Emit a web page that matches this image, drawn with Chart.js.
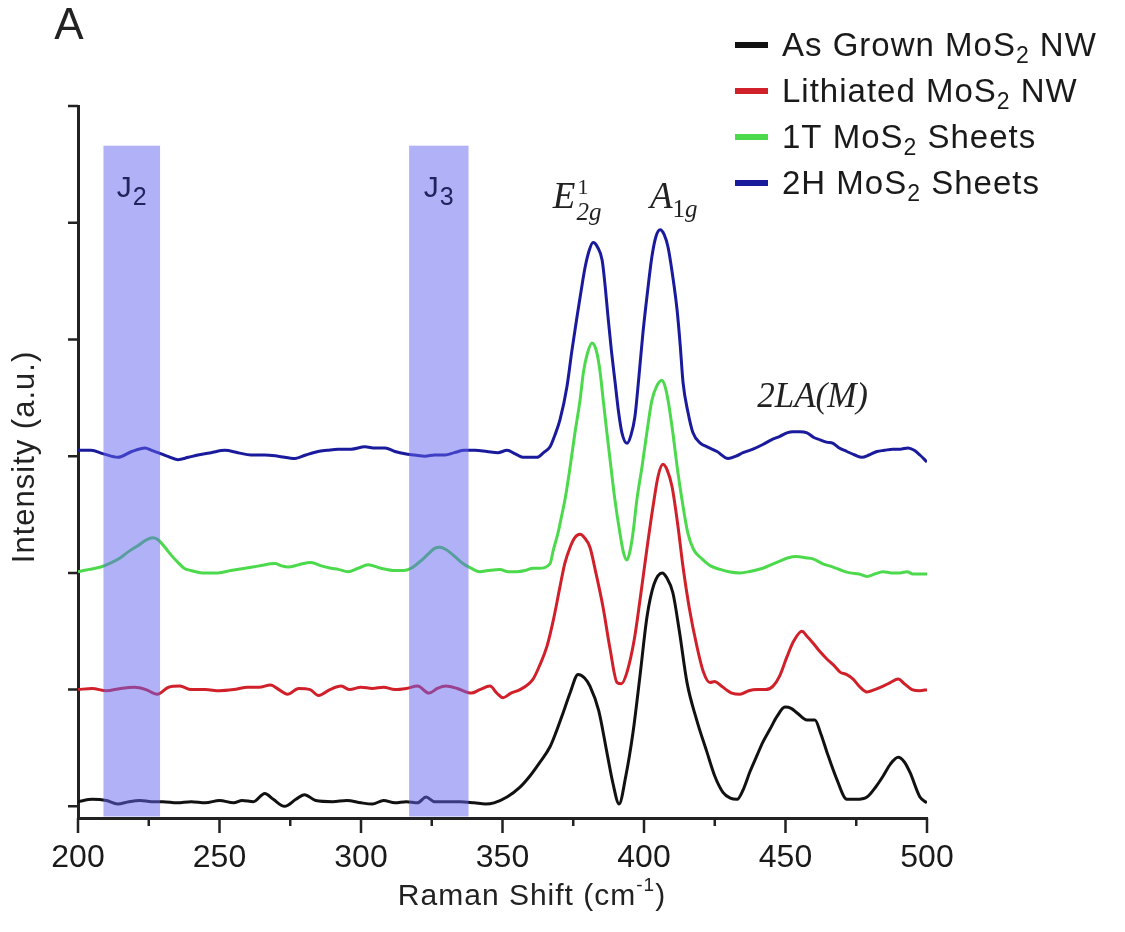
<!DOCTYPE html>
<html>
<head>
<meta charset="utf-8">
<script src="https://cdn.jsdelivr.net/npm/chart.js@4.4.0/dist/chart.umd.min.js"></script>
<style>
  html, body { margin: 0; background: #fff; }
</style>
</head>
<body>
<canvas id="raman" width="1125" height="932"></canvas>
<script>
// Raman spectra, values (offset stacked, arbitrary units)
const seriesLabels = ['As Grown MoS₂ NW', 'Lithiated MoS₂ NW', '1T MoS₂ Sheets', '2H MoS₂ Sheets'];
const seriesColors = ['#111111', '#d0202a', '#4cd94c', '#1a1a9c'];

const grownX = [200,205,210,214,218,222,226,230,235,240,245,250,255,258,262,266,269,273,277,280,284,290,295,300,304,308,312,316,320,323,326,330,335,340,344,347,351.6,356,359.7,363,366.8,369,371.4,374,376.7,379,380.9,384,386.9,389,391.2,393.5,396.1,398.5,401.1,403.5,406.4,408,410.2,412.5,415.2,418.5,422.3,425,427.9,430.5,432.9,435,437.5,440,442,444.5,447,449.8,452,454.1,457.6,460.4,462.5,464.7,468,471.7,475,478.8,482,484.5,487,489.8,492,494,497.5,500];
const grownY = [0.04,0.06,0.05,0.02,0.04,0.05,0.04,0.04,0.03,0.04,0.03,0.05,0.03,0.05,0.04,0.11,0.06,0.00,0.06,0.10,0.05,0.04,0.05,0.03,0.02,0.05,0.03,0.04,0.03,0.08,0.04,0.04,0.04,0.03,0.02,0.03,0.08,0.16,0.26,0.37,0.51,0.64,0.80,0.98,1.13,1.10,1.03,0.82,0.46,0.20,0.02,0.25,0.63,1.10,1.63,1.90,2.00,1.96,1.83,1.50,1.06,0.75,0.46,0.26,0.12,0.07,0.06,0.14,0.30,0.44,0.55,0.66,0.77,0.85,0.84,0.80,0.74,0.74,0.62,0.46,0.24,0.06,0.06,0.08,0.17,0.26,0.36,0.42,0.38,0.29,0.08,0.03];

const lithX = [200,205,210,215,220,224,228,232,236,240,245,250,255,260,264,268,271,274,278,282,285,289,293,296,300,304,308,312,316,320,324,327,330,334,339,342,345.6,348,350.2,353,356.2,360.8,363,365.7,368,370.3,372,373.9,375.5,377.4,379,380.9,383,385.5,388,390.5,392,394,396.5,398.6,401,403.2,405,406.7,408.2,409.9,412,413.8,416,418.7,421,423.3,425,426.9,429,431,433.9,437,440,443,445.6,448,450.5,453,455.8,457.5,459.7,462,464.7,467,469.3,471.5,473.9,476,478.8,481.5,484.5,487,489.8,492,494.7,497.5,500];
const lithY = [1.00,1.01,0.99,1.01,1.02,1.00,0.96,1.02,1.03,1.00,1.00,0.99,1.00,1.02,1.02,1.04,1.00,0.96,1.01,1.00,0.95,1.00,1.03,1.00,1.02,1.01,1.02,1.00,1.01,1.03,0.97,1.01,1.03,1.01,0.97,1.00,1.03,0.97,0.93,0.97,1.00,1.09,1.20,1.37,1.60,1.88,2.08,2.22,2.30,2.33,2.30,2.22,2.00,1.71,1.35,1.06,1.05,1.15,1.42,1.77,2.20,2.57,2.83,2.93,2.88,2.74,2.40,2.05,1.70,1.37,1.15,1.06,1.07,1.04,1.00,0.97,0.96,0.99,1.00,1.00,1.03,1.12,1.28,1.42,1.50,1.46,1.40,1.33,1.26,1.21,1.15,1.13,1.09,1.03,0.98,1.00,1.03,1.06,1.09,1.05,1.00,0.99,1.00];

const sheet1TX = [200,204,208,212,215,217.7,221,224,226.5,228.5,230.7,233,235.3,237.5,239.9,244,249.5,254,259,264,269.6,272,274.2,278,282.3,286,289.4,292,295.4,299,302.5,307,312,315,317.7,321,323.7,326,327.9,330,333.2,336,338.9,342,344.9,349.1,352,355.1,358,360.8,363,366.8,368,369.6,371,372.1,373.9,375.6,377.4,378.6,380,381.6,383.2,384.5,385.5,386.9,388.3,389.7,391.5,392.8,394,395,396.1,397.5,399.3,401,402.8,404.5,406.3,407.4,408.5,410.2,411.7,413.4,415.5,417.5,420.5,423.5,426.9,430,433.9,437,442,445,448,451,454,457,459.7,463,466.8,470,472.8,476,478.8,481.5,484.5,487.5,490.5,493,495,498,500];
const sheet1TY = [2.01,2.03,2.05,2.09,2.13,2.18,2.23,2.28,2.30,2.28,2.22,2.15,2.09,2.04,2.02,2.00,2.00,2.02,2.04,2.06,2.08,2.06,2.05,2.07,2.09,2.06,2.04,2.03,2.01,2.04,2.07,2.04,2.02,2.02,2.04,2.10,2.16,2.21,2.22,2.20,2.14,2.08,2.04,2.01,2.02,2.03,2.01,2.01,2.02,2.04,2.04,2.08,2.20,2.34,2.50,2.63,2.91,3.20,3.48,3.72,3.88,3.97,3.90,3.72,3.50,3.20,2.91,2.63,2.34,2.17,2.11,2.18,2.34,2.63,2.91,3.20,3.48,3.60,3.65,3.60,3.48,3.20,2.91,2.63,2.34,2.20,2.12,2.06,2.03,2.01,2.00,2.01,2.04,2.07,2.10,2.13,2.14,2.13,2.12,2.08,2.05,2.02,2.00,1.99,1.97,1.99,2.01,2.00,2.00,2.01,1.99,1.99,1.99];

const sheet2HX = [200,204.6,209,214.1,219,223.7,226,228.3,231.5,235.3,239,242.4,247,251.9,256.5,261.1,266,270.7,276.7,280.5,284.8,288,291.9,296.5,301.4,305,308.5,312,315.5,319,322.6,326,329.7,333,336.5,340.3,344.5,348.4,351.6,354.5,357.2,360,362.2,364.5,366.8,368.5,370.3,372.8,374.5,376.3,377.8,379.2,380.6,382,383.6,385.2,386.3,387.3,388.5,389.8,391,392.2,394,395.4,396.8,398.2,399.6,401.2,402.8,404.2,405.7,407.1,408.5,410.1,411.7,412.8,413.8,415.5,417.3,420,422.3,425.8,429.7,432.5,435,438.5,442,445,448,450.5,452.7,455,457.6,460,462.2,464.5,466.8,469,471.7,474.5,477,479.5,482.3,485,487.9,490.5,493.3,495.5,497.5,500];
const sheet2HY = [3.05,3.05,3.02,2.99,3.04,3.07,3.05,3.03,3.00,2.97,2.99,3.01,3.03,3.05,3.03,3.01,3.01,3.00,2.98,3.01,3.04,3.05,3.06,3.06,3.08,3.07,3.07,3.04,3.02,3.01,3.00,3.01,3.01,3.03,3.05,3.05,3.04,3.03,3.05,3.02,2.99,2.99,2.99,3.03,3.08,3.18,3.31,3.60,3.90,4.19,4.42,4.62,4.76,4.83,4.79,4.68,4.45,4.19,3.90,3.63,3.38,3.20,3.11,3.18,3.34,3.68,4.05,4.40,4.71,4.88,4.94,4.90,4.79,4.55,4.25,3.95,3.63,3.38,3.20,3.11,3.08,3.04,2.98,3.00,3.03,3.06,3.10,3.14,3.17,3.20,3.21,3.21,3.20,3.16,3.14,3.12,3.11,3.07,3.04,3.01,2.99,3.01,3.04,3.05,3.06,3.06,3.07,3.05,3.01,2.95];

const bandRanges = [[209, 229], [317, 338]];
const bandLabels = [['J', '2'], ['J', '3']];
const bandTop = 5.66;

const xTicks = [200, 250, 300, 350, 400, 450, 500];
const xMinorTicks = [225, 275, 325, 375, 425, 475];
const yTicks = [0, 1, 2, 3, 4, 5, 6];

const SANS = '"Liberation Sans", Arial, sans-serif';
const SERIF = '"Liberation Serif", "Times New Roman", serif';

function pairs(xs, ys) {
    return xs.map((x, i) => ({ x: x, y: ys[i] }));
}

// draws text pieces one after another, each with its own font and vertical shift
function drawPieces(ctx, pieces, x, y) {
    let cx = x;
    pieces.forEach(p => {
        ctx.font = p.font;
        ctx.fillText(p.t, cx, y + (p.dy || 0));
        cx += ctx.measureText(p.t).width + (p.gap || 0);
    });
    return cx;
}

function piecesWidth(ctx, pieces) {
    let w = 0;
    pieces.forEach(p => {
        ctx.font = p.font;
        w += ctx.measureText(p.t).width + (p.gap || 0);
    });
    return w;
}

const decorPlugin = {
    id: 'decor',
    afterDatasetsDraw(chart) {
        const ctx = chart.ctx;
        const xs = chart.scales.x;
        const ys = chart.scales.y;
        const area = chart.chartArea;
        ctx.save();

        // translucent J bands lie over the spectra
        ctx.fillStyle = 'rgba(100, 100, 240, 0.5)';
        bandRanges.forEach(r => {
            const x0 = xs.getPixelForValue(r[0]);
            const x1 = xs.getPixelForValue(r[1]);
            const top = ys.getPixelForValue(bandTop);
            ctx.fillRect(x0, top, x1 - x0, area.bottom - 1.5 - top);
        });

        ctx.fillStyle = '#22225e';
        ctx.textBaseline = 'alphabetic';
        bandLabels.forEach((lab, i) => {
            const pieces = [
                { t: lab[0], font: '30px ' + SANS, gap: 1 },
                { t: lab[1], font: '25px ' + SANS, dy: 8 }
            ];
            const cx = xs.getPixelForValue((bandRanges[i][0] + bandRanges[i][1]) / 2);
            drawPieces(ctx, pieces, cx - piecesWidth(ctx, pieces) / 2, ys.getPixelForValue(5.22));
        });

        // tick marks
        ctx.strokeStyle = '#222';
        ctx.lineWidth = 2.5;
        ctx.beginPath();
        xTicks.forEach(v => {
            const px = xs.getPixelForValue(v);
            ctx.moveTo(px, area.bottom);
            ctx.lineTo(px, area.bottom + 15);
        });
        xMinorTicks.forEach(v => {
            const px = xs.getPixelForValue(v);
            ctx.moveTo(px, area.bottom);
            ctx.lineTo(px, area.bottom + 8);
        });
        yTicks.forEach(v => {
            const py = ys.getPixelForValue(v);
            ctx.moveTo(area.left, py);
            ctx.lineTo(area.left - 10, py);
        });
        ctx.stroke();

        // peak annotations
        ctx.fillStyle = '#222';
        const base = ys.getPixelForValue(5.13);
        let ex = drawPieces(ctx, [{ t: 'E', font: 'italic 37px ' + SERIF, gap: 2 }], xs.getPixelForValue(367.8), base);
        ctx.font = '22px ' + SERIF;
        ctx.fillText('1', ex, base - 14);
        drawPieces(ctx, [{ t: '2g', font: 'italic 25px ' + SERIF }], ex - 1, base + 12);
        drawPieces(ctx, [
            { t: 'A', font: 'italic 37px ' + SERIF },
            { t: '1', font: '25px ' + SERIF, dy: 9 },
            { t: 'g', font: 'italic 25px ' + SERIF, dy: 9 }
        ], xs.getPixelForValue(402.1), base);
        ctx.font = 'italic 35px ' + SERIF;
        ctx.fillText('2LA(M)', xs.getPixelForValue(440), ys.getPixelForValue(3.42));

        // legend
        ctx.letterSpacing = '1px';
        chart.data.datasets.forEach((ds, i) => {
            const ry = 45 + i * 46;
            ctx.strokeStyle = ds.borderColor;
            ctx.lineWidth = 6;
            ctx.beginPath();
            ctx.moveTo(735, ry);
            ctx.lineTo(768, ry);
            ctx.stroke();
            const parts = ds.label.split('₂');
            ctx.fillStyle = '#1a1a1a';
            ctx.textBaseline = 'middle';
            drawPieces(ctx, [
                { t: parts[0], font: '33px ' + SANS },
                { t: '2', font: '23px ' + SANS, dy: 10 },
                { t: parts[1], font: '33px ' + SANS }
            ], 782, ry + 2);
        });

        // axis titles
        ctx.fillStyle = '#222';
        ctx.textBaseline = 'middle';
        ctx.letterSpacing = '1px';
        const xt = [
            { t: 'Raman Shift (cm', font: '30px ' + SANS },
            { t: '-1', font: '19px ' + SANS, dy: -11 },
            { t: ')', font: '30px ' + SANS }
        ];
        drawPieces(ctx, xt, 532 - piecesWidth(ctx, xt) / 2, 897);

        ctx.save();
        ctx.translate(25, 457);
        ctx.rotate(-Math.PI / 2);
        ctx.font = '31px ' + SANS;
        ctx.textAlign = 'center';
        ctx.fillText('Intensity (a.u.)', 0, 0);
        ctx.restore();

        ctx.letterSpacing = '0px';
        ctx.font = '44px ' + SANS;
        ctx.textAlign = 'center';
        ctx.fillText('A', 69, 27);

        ctx.restore();
    }
};

const seriesPoints = [
    pairs(grownX, grownY),
    pairs(lithX, lithY),
    pairs(sheet1TX, sheet1TY),
    pairs(sheet2HX, sheet2HY)
];

new Chart(document.getElementById('raman'), {
    type: 'line',
    data: {
        datasets: seriesPoints.map((pts, i) => ({
            label: seriesLabels[i],
            data: pts,
            borderColor: seriesColors[i],
            borderWidth: 3,
            pointRadius: 0,
            cubicInterpolationMode: 'monotone',
            fill: false
        }))
    },
    options: {
        responsive: false,
        animation: false,
        events: [],
        layout: { padding: { left: 0, right: 198, top: 106, bottom: 0 } },
        plugins: {
            legend: { display: false },
            tooltip: { enabled: false }
        },
        scales: {
            x: {
                type: 'linear',
                min: 200,
                max: 500,
                afterFit: s => { s.height = 114; },
                grid: { display: false, drawTicks: false },
                border: { display: true, width: 3, color: '#222' },
                ticks: {
                    stepSize: 50,
                    padding: 21,
                    color: '#1a1a1a',
                    font: { family: SANS, size: 32 }
                }
            },
            y: {
                min: -0.1,
                max: 6,
                afterFit: s => { s.width = 78; },
                grid: { display: false, drawTicks: false },
                border: { display: true, width: 3, color: '#222' },
                ticks: { display: false }
            }
        }
    },
    plugins: [decorPlugin]
});
</script>
</body>
</html>
